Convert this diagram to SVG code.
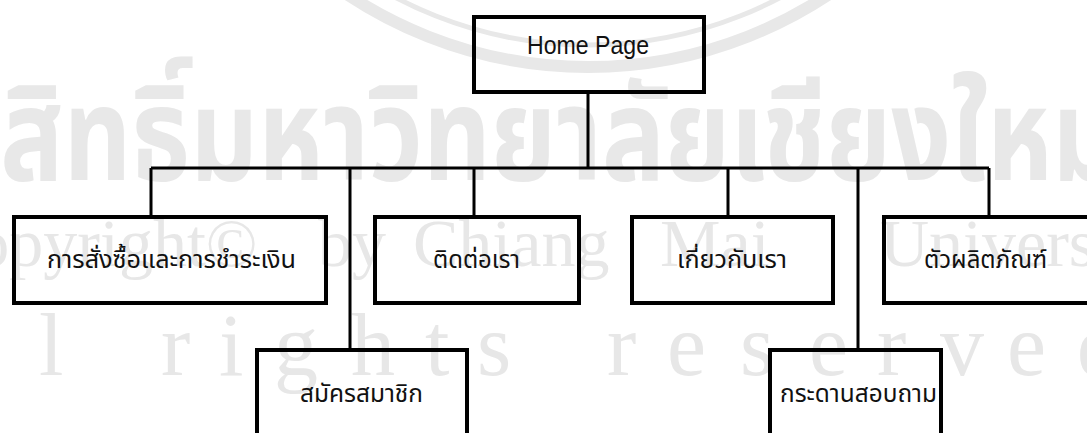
<svg xmlns="http://www.w3.org/2000/svg" width="1087" height="433" viewBox="0 0 1087 433">
<style>
.wm{fill:#e7e7e7;font-family:"Liberation Serif",serif}
.wmt{fill:#e8e8e8;font-family:"Noto Sans Thai","Noto Sans","DejaVu Sans",sans-serif;font-weight:bold}
.ring{fill:none;stroke:#e8e8e8}
.bg{fill:none;stroke:#000;stroke-width:4}
.lbl{font-family:"Noto Sans Thai","Noto Sans","DejaVu Sans",sans-serif;font-size:24px;fill:#111}
.en{font-family:"Liberation Sans Narrow","Liberation Sans",Arial,sans-serif;font-size:25px;fill:#111}
.con{fill:none;stroke:#000;stroke-width:3}
</style>
<rect width="1087" height="433" fill="#fff"/>
<g id="watermark">
<circle class="ring" cx="588" cy="-368" r="435" stroke-width="12"/>
<circle class="ring" cx="588" cy="-368" r="413" stroke-width="5"/>
<text class="wmt" x="-125" y="180" font-size="130" textLength="1245" lengthAdjust="spacingAndGlyphs">ลิขสิทธิ์มหาวิทยาลัยเชียงใหม่</text>
<text class="wm" font-size="68" y="266"><tspan x="-70">Copyright©</tspan><tspan x="318">by</tspan><tspan x="413">Chiang</tspan><tspan x="660">Mai</tspan><tspan x="880">University</tspan></text>
<text class="wm" font-size="88" y="375" x="-140 -50 39 161 219 274 351 425 477 607 667 740 809 877 940 1007 1077">Allrightsreserved</text>
</g>
<g id="connectors">
<path class="con" d="M588 94V168M151 168H989M151 168V215M350 168V348M474 168V215M728 168V215M858 168V348M989 168V215"/>
</g>
<g id="home"><rect class="bg" x="474" y="17" width="230" height="75"/><text class="en" x="527" y="54" textLength="122" lengthAdjust="spacingAndGlyphs">Home  Page</text></g>
<g id="payment"><rect class="bg" x="14" y="217" width="312" height="86"/><text class="lbl" x="47" y="268" textLength="249" lengthAdjust="spacingAndGlyphs">การสั่งซื้อและการชำระเงิน</text></g>
<g id="contact"><rect class="bg" x="375" y="217" width="204" height="86"/><text class="lbl" x="433" y="268" textLength="87" lengthAdjust="spacingAndGlyphs">ติดต่อเรา</text></g>
<g id="about"><rect class="bg" x="632" y="217" width="201" height="86"/><text class="lbl" x="677" y="268" textLength="110" lengthAdjust="spacingAndGlyphs">เกี่ยวกับเรา</text></g>
<g id="products"><rect class="bg" x="884" y="217" width="210" height="86"/><text class="lbl" x="924" y="268" textLength="123" lengthAdjust="spacingAndGlyphs">ตัวผลิตภัณฑ์</text></g>
<g id="member"><rect class="bg" x="257" y="350" width="210" height="100"/><text class="lbl" x="300" y="402" textLength="123" lengthAdjust="spacingAndGlyphs">สมัครสมาชิก</text></g>
<g id="board"><rect class="bg" x="770" y="350" width="171" height="100"/><text class="lbl" x="780" y="402" textLength="157" lengthAdjust="spacingAndGlyphs">กระดานสอบถาม</text></g>
</svg>
